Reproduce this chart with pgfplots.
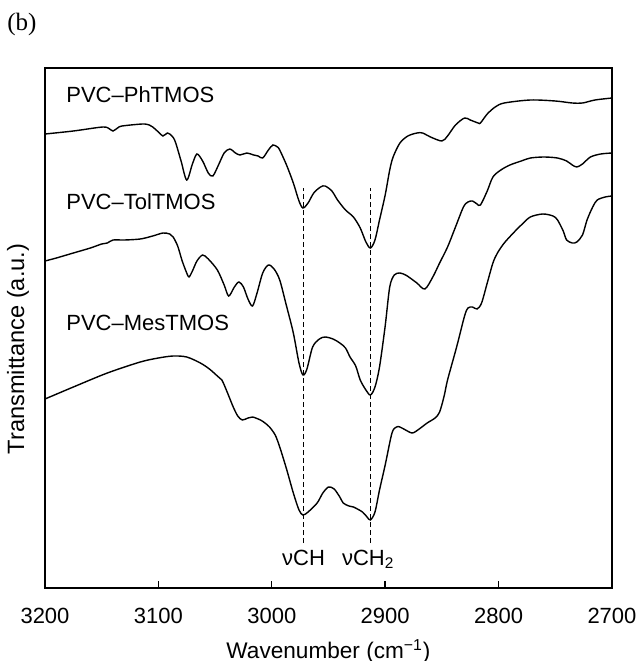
\documentclass[border=0pt]{standalone}
\usepackage{fontspec}
\setmainfont{Liberation Sans}
\newfontfamily\seriffont{Liberation Serif}
\usepackage{pgfplots}
\pgfplotsset{compat=1.18}
\pgfplotstableread{
w y
3200 527
3175 530
3149 534
3143 532
3140 530
3136 533
3132 535
3114 537
3108 536
3105 534
3100 529
3096 525
3092 528
3088 525
3085 519
3080 500
3075 481
3070 497
3066 507
3061 500
3056 488
3052 485
3047 496
3042 508
3037 512
3032 508
3028 506
3022 508
3016 506
3012 505
3008 503
3003 511
2999 516
2995 514
2993 511
2987 496
2981 478
2976 460
2972.5 453
2968 458
2963 468
2957 474
2953 475
2947 470
2942 461
2935 451
2928 444
2922 433
2917 419
2913 413
2909 421
2905 441
2900 466
2896 491
2893 504
2887 518
2880 525
2872 528
2867 528
2860 524
2850 520
2845 525
2838 536
2830 543
2825 541
2818 538
2816 538
2810 547
2803 554
2795 558
2772 561
2750 560
2735 558
2726 558
2715 561
2700 563
}\ph
\pgfplotstableread{
w y
3200 400
3190 403
3175 408
3160 413
3150 417
3145 418
3140 421
3130 421
3116 422
3105 425
3096 428
3090 427
3087 424
3083 415
3079 400
3075 388
3073 384
3070 390
3066 400
3061 406
3056 402
3048 391
3042 376
3038 365
3033 374
3029 379
3025 374
3021 362
3017 355
3013 368
3008 388
3003 396
2998 392
2993 381
2987 355
2981 328
2976 298
2972.5 286
2969 292
2964 314
2958 322
2953 324
2946 322
2940 318
2935 313
2931 304
2926 295
2922 281
2917 271
2913 266
2909 274
2905 294
2900 335
2896 374
2892 386
2887 388
2882 386
2878 383
2872 378
2865 372
2858 384
2852 398
2845 414
2838 434
2831 454
2827 459
2823 460
2819 457
2816 456
2810 470
2805 484
2798 491
2790 496
2780 500
2772 503
2760 504
2748 503
2740 500
2735 496
2731 494
2726 497
2719 504
2710 507
2700 508
}\tol
\pgfplotstableread{
w y
3200 262
3175 274
3145 288
3116 299
3100 303
3087 305
3075 304
3063 298
3055 292
3048 285
3044 281
3039 268
3034 254
3030 245
3026 241
3021 243
3017 244
3010 241
3006 238
3002 234
2997 226
2993 214
2987 192
2981 168
2976 151
2972.5 146
2968 149
2960 158
2955 168
2950 174
2945 172
2940 164
2937 158
2932 155
2928 154
2920 149
2916 144
2913 141
2909 149
2905 171
2900 196
2894 228
2890 234
2887 234
2882 231
2876 228
2870 232
2863 238
2856 243
2852 249
2848 265
2845 281
2837 314
2830 345
2827 353
2823 354
2819 352
2815 358
2810 378
2805 398
2801 408
2795 418
2787 428
2780 436
2772 444
2761 447
2752 445
2748 441
2743 430
2740 421
2735 418
2731 419
2726 426
2722 441
2717 454
2713 461
2706 464
2700 465
}\mes
\begin{document}
\fontsize{11}{13}\selectfont
\begin{tikzpicture}
\begin{axis}[
  scale only axis, width=283.5pt, height=260pt,
  xmin=2700, xmax=3200, x dir=reverse,
  ymin=73, ymax=593,
  xtick={2700,2800,...,3200}, ytick=\empty,
  xtick pos=bottom, tick align=inside, major tick length=3.5pt,
  /pgf/number format/assume math mode=true,
  /pgf/number format/set thousands separator={},
  xticklabel style={font=\fontsize{11}{13}\selectfont, yshift=-6pt},
  axis line style={line width=0.7pt},
  major tick style={line width=0.7pt, black},
  xlabel={Wavenumber (cm\textsuperscript{−1})},
  xlabel style={at={(axis description cs:0.5,0)}, anchor=center, yshift=-31.5pt, font=\fontsize{11.3}{13}\selectfont},
  clip=false,
]
\addplot[black, line width=0.7pt, smooth, tension=0.5] table[x=w,y=y] {\ph};
\addplot[black, line width=0.7pt, smooth, tension=0.5] table[x=w,y=y] {\tol};
\addplot[black, line width=0.7pt, smooth, tension=0.5] table[x=w,y=y] {\mes};
\addplot[black, line width=0.4pt, dash pattern=on 2.5pt off 1.5pt] coordinates {(2972.5,118) (2972.5,473)};
\addplot[black, line width=0.4pt, dash pattern=on 2.5pt off 1.5pt] coordinates {(2913,118) (2913,473)};
\node[anchor=west, inner sep=0pt] at (axis cs:3181.5,566) {PVC–PhTMOS};
\node[anchor=west, inner sep=0pt] at (axis cs:3181.5,459) {PVC–TolTMOS};
\node[anchor=west, inner sep=0pt] at (axis cs:3181.5,338) {PVC–MesTMOS};
\node[anchor=base, inner sep=0pt] at (axis cs:2972,96) {νCH};
\node[anchor=base, inner sep=0pt] at (axis cs:2915,96) {νCH\textsubscript{2}};
\end{axis}
\node[rotate=90, inner sep=0pt, font=\fontsize{11.8}{13}\selectfont] at (-13.5pt,119.5pt) {Transmittance (a.u.)};
\node[inner sep=0pt, font=\seriffont\fontsize{12.5}{14}\selectfont] at (-11.5pt,282pt) {(b)};
\pgfresetboundingbox
\path[use as bounding box] (-22.5pt,-36.5pt) rectangle (297.5pt,294pt);
\end{tikzpicture}
\end{document}
